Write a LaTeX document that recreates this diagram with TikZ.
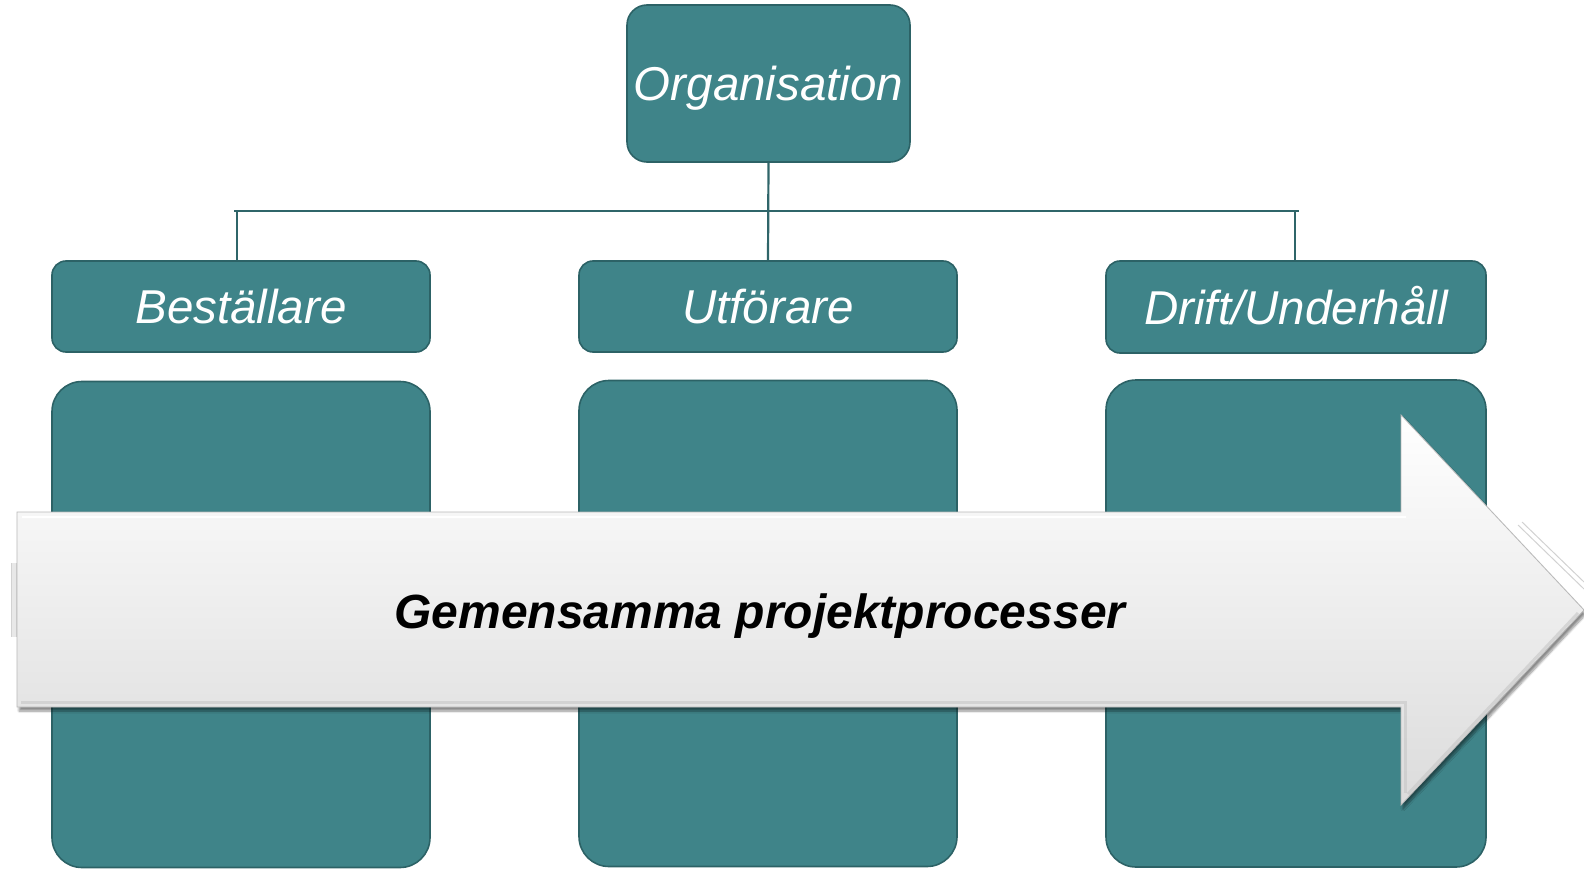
\documentclass[tikz,border=0pt]{standalone}
\usepackage{fontspec}
\setmainfont{Liberation Sans}
\usetikzlibrary{shadows.blur}

\definecolor{tealfill}{HTML}{3F8489}
\definecolor{tealedge}{HTML}{2C6266}
\definecolor{tealline}{HTML}{2F6569}

\tikzset{
  box/.style={draw=tealedge, line width=1.6pt, fill=tealfill, rounded corners=#1,
    inner sep=0pt, text=white, font=\fontsize{47.5}{56}\selectfont\itshape,
    text height=34pt, text depth=0pt},
  box/.default=14pt,
  conn/.style={draw=tealline, line width=2.2pt},
  ghost/.style={draw=gray!35, line width=1pt},
}

\begin{document}
\begin{tikzpicture}[x=1pt, y=-1pt]
  \useasboundingbox (0,0) rectangle (1584,869);

  % top-level box
  \node[box=20pt, minimum width=283pt, minimum height=157pt] (org) at (768.5,83.5) {Organisation};

  % column headers
  \node[box, minimum width=378pt, minimum height=91pt] (b) at (241,306.5) {Beställare};
  \node[box, minimum width=378pt, minimum height=91pt] (u) at (768,306.5) {Utförare};
  \node[box, minimum width=380pt, minimum height=92pt] (d) at (1296,307) {Drift/Underhåll};

  % column bodies
  \node[box=30pt, minimum width=378pt, minimum height=486pt] (bl) at (241,624.5) {};
  \node[box=30pt, minimum width=378pt, minimum height=486pt] (ul) at (768,623.5) {};
  \node[box=30pt, minimum width=380pt, minimum height=487pt] (dl) at (1296,623.5) {};

  % organisation tree
  \coordinate (busL) at (234,211);
  \coordinate (busR) at (1299,211);
  \draw[conn] (busL) -- (busR);
  \draw[conn] (org.south) -- (u.north);
  \draw[conn] ([xshift=-4pt]b.north) -- ([xshift=-4pt]b.north |- busL);
  \draw[conn] ([xshift=-1pt]d.north) -- ([xshift=-1pt]d.north |- busR);

  % faint edges peeking out behind the process arrow
  \fill[gray!18] (11,563) rectangle (18,637);
  \draw[ghost] (11,563) -- (11,637);
  \draw[ghost] (1518,525) -- (1584,589);
  \draw[ghost] (1522,522) -- (1584,582);

  % process arrow
  \path[blur shadow={shadow xshift=2pt, shadow yshift=-4pt, shadow blur steps=8, shadow opacity=45},
        top color=white, bottom color=gray!28, draw=gray!55, line width=0.8pt]
    (17,512) -- (1401,512) -- (1401,415) -- (1584,610) -- (1401,805) -- (1401,707) -- (17,707) -- cycle;
  % bevel highlight and inner shade along the edges
  \draw[white, line width=2pt] (22,517) -- (1406,517);
  \draw[gray!45, line width=3pt, opacity=0.6] (21,702) -- (1405,702) -- (1405,793);
  \draw[gray!45, line width=3pt, opacity=0.6] (1578,613) -- (1408,794);

  \node[font=\fontsize{48}{56}\selectfont\bfseries\itshape, text=black,
        text height=34pt, text depth=0pt, inner sep=0pt] (proc) at (760,611) {Gemensamma projektprocesser};
\end{tikzpicture}
\end{document}
